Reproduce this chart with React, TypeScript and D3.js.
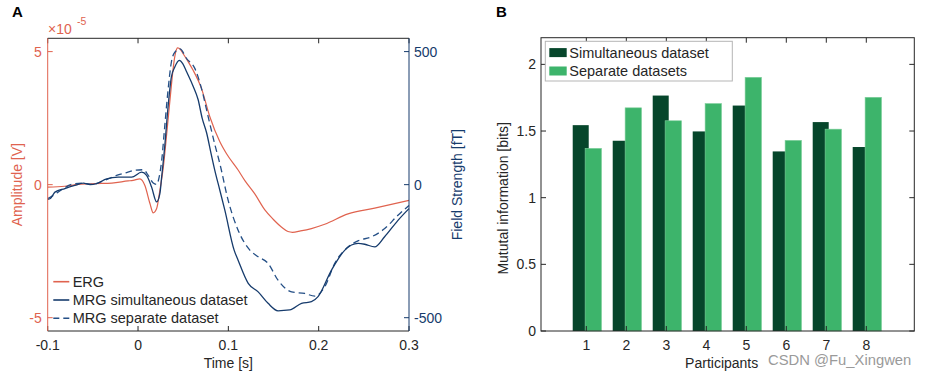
import React from "react";
import * as d3 from "d3";

// ---------- Panel A data ----------
const ergTime = [-0.1, -0.081, -0.066, -0.0477, -0.029, -0.011, -0.0055, 0.0021, 0.0076, 0.0132, 0.0168, 0.0206, 0.0242, 0.028, 0.032, 0.036, 0.039, 0.0415, 0.0438, 0.047, 0.05, 0.055, 0.061, 0.0703, 0.0795, 0.0906, 0.098, 0.1108, 0.1183, 0.1293, 0.1404, 0.1496, 0.159, 0.166, 0.171, 0.18, 0.192, 0.2067, 0.2325, 0.262, 0.3];
const ergValue = [-0.09, -0.06, 0.01, 0.04, 0.06, 0.14, 0.16, 0.22, -0.03, -0.71, -1.06, -0.9, -0.21, 0.66, 2.0, 3.4, 4.4, 4.95, 5.14, 5.08, 4.92, 4.65, 4.3, 3.61, 2.55, 1.61, 1.16, 0.55, 0.15, -0.35, -0.95, -1.3, -1.6, -1.76, -1.79, -1.74, -1.65, -1.49, -1.1, -0.88, -0.59];

const simTime = [-0.1, -0.097, -0.092, -0.081, -0.07, -0.0606, -0.053, -0.0458, -0.0347, -0.022, -0.0071, 0.004, 0.0095, 0.015, 0.0206, 0.0242, 0.0262, 0.0295, 0.0332, 0.0369, 0.0406, 0.0456, 0.0495, 0.0538, 0.061, 0.0665, 0.071, 0.0759, 0.081, 0.085, 0.0905, 0.0961, 0.1064, 0.1108, 0.122, 0.133, 0.144, 0.155, 0.168, 0.181, 0.192, 0.1993, 0.2142, 0.229, 0.2436, 0.251, 0.262, 0.273, 0.2878, 0.3];
const simValue = [-55, -52, -28, -15, -3, 6, 0, 4, 22, 28, 28, 47, 35, -9, -65, -34, 30, 141, 291, 404, 441, 467, 455, 424, 370, 320, 250, 195, 115, 54, -20, -96, -246, -284, -371, -403, -446, -474, -471, -446, -440, -421, -321, -246, -221, -224, -234, -196, -134, -90];

const sepTime = [-0.1, -0.0956, -0.0845, -0.0735, -0.0624, -0.0513, -0.0385, -0.0237, -0.0145, -0.0034, 0.0058, 0.0113, 0.0168, 0.0206, 0.0235, 0.0262, 0.0295, 0.0332, 0.0369, 0.0406, 0.0464, 0.0538, 0.063, 0.0703, 0.0777, 0.0851, 0.0906, 0.0998, 0.1108, 0.1238, 0.133, 0.144, 0.155, 0.17, 0.1846, 0.1957, 0.2067, 0.2178, 0.2325, 0.2436, 0.2584, 0.2731, 0.2878, 0.3];
const sepValue = [-52, -44, -19, 1, 6, 1, 14, 35, 44, 54, 56, 35, 6, 1, 30, 91, 216, 354, 460, 497, 510, 474, 436, 361, 255, 150, 79, -59, -171, -246, -271, -296, -359, -403, -409, -419, -384, -296, -234, -211, -196, -165, -115, -78];

const timeTicks = [-0.1, 0, 0.1, 0.2, 0.3];
const timeTickLabels = ["-0.1", "0", "0.1", "0.2", "0.3"];
const ampTicks = [-5, 0, 5];
const fieldTicks = [-500, 0, 500];
const legendA = ["ERG", "MRG simultaneous dataset", "MRG separate dataset"];

// ---------- Panel B data ----------
const participants = [1, 2, 3, 4, 5, 6, 7, 8];
const simultaneousMI = [1.544, 1.427, 1.766, 1.497, 1.691, 1.347, 1.567, 1.38];
const separateMI = [1.37, 1.674, 1.577, 1.706, 1.903, 1.43, 1.514, 1.753];
const miTicks = [0, 0.5, 1, 1.5, 2];
const legendB = ["Simultaneous dataset", "Separate datasets"];

const FONT = "'Liberation Sans', Arial, Helvetica, sans-serif";
const RED = "#e0634f";
const NAVY = "#163b6c";
const NAVY2 = "#244f86";
const DARKG = "#06462b";
const LIGHTG = "#3db46b";
const TXT = "#262626";

export default function App() {
  // Panel A scales
  const xA = d3.scaleLinear().domain([-0.1, 0.3]).range([47.7, 409]);
  const yL = d3.scaleLinear().domain([-5.5, 5.5]).range([331, 38.3]);
  const yR = d3.scaleLinear().domain([-550, 550]).range([331, 38.3]);
  const [ax0, ax1] = xA.range();
  const [ay1, ay0] = yL.range();

  const lineL = d3.line<number>().x((_, i) => xA(ergTime[i])).y((d) => yL(d)).curve(d3.curveMonotoneX);
  const lineSim = d3.line<number>().x((_, i) => xA(simTime[i])).y((d) => yR(d)).curve(d3.curveMonotoneX);
  const lineSep = d3.line<number>().x((_, i) => xA(sepTime[i])).y((d) => yR(d)).curve(d3.curveMonotoneX);

  // Panel B scales
  const xB = d3.scaleLinear().domain([-0.133, 9.2]).range([541, 914.3]);
  const yB = d3.scaleLinear().domain([0, 2.2]).range([331, 37.7]);
  const [bx0, bx1] = xB.range();
  const [by1, by0] = yB.range();
  const tk = 5;

  const legendAStyles = [
    { stroke: RED, dash: undefined },
    { stroke: NAVY, dash: undefined },
    { stroke: NAVY2, dash: "6,4" },
  ];

  return (
    <svg width={926} height={377} style={{ display: "block", position: "absolute", left: 0, top: 0, background: "#fff" }} fontFamily={FONT}>
      <rect x={0} y={0} width={926} height={377} fill="#fff" />
      {/* ---------------- Panel A ---------------- */}
      <text x={12} y={17} fontSize={15} fontWeight="bold" fill="#000">A</text>
      <g>
        <path d={lineL(ergValue) || ""} fill="none" stroke={RED} strokeWidth={1.2} />
        <path d={lineSep(sepValue) || ""} fill="none" stroke={NAVY2} strokeWidth={1.3} strokeDasharray="6.5,4" />
        <path d={lineSim(simValue) || ""} fill="none" stroke={NAVY} strokeWidth={1.3} />
        <line x1={ax0} x2={ax1} y1={ay0} y2={ay0} stroke={TXT} strokeWidth={1} />
        <line x1={ax0} x2={ax1} y1={ay1} y2={ay1} stroke={TXT} strokeWidth={1} />
        {timeTicks.map((t, i) => (
          <g key={"xt" + i}>
            <line x1={xA(t)} x2={xA(t)} y1={ay1} y2={ay1 - tk} stroke={TXT} />
            <line x1={xA(t)} x2={xA(t)} y1={ay0} y2={ay0 + tk} stroke={TXT} />
            <text x={xA(t)} y={349.5} fontSize={14} textAnchor="middle" fill={TXT}>{timeTickLabels[i]}</text>
          </g>
        ))}
        <line x1={ax0} x2={ax0} y1={ay0} y2={ay1} stroke={RED} strokeWidth={1} />
        {ampTicks.map((v) => (
          <g key={"yl" + v}>
            <line x1={ax0} x2={ax0 + tk} y1={yL(v)} y2={yL(v)} stroke={RED} />
            <text x={ax0 - 6} y={yL(v)} dy="0.35em" fontSize={14} textAnchor="end" fill={RED}>{v}</text>
          </g>
        ))}
        <line x1={ax1} x2={ax1} y1={ay0} y2={ay1} stroke={NAVY} strokeWidth={1} />
        {fieldTicks.map((v) => (
          <g key={"yr" + v}>
            <line x1={ax1} x2={ax1 - tk} y1={yR(v)} y2={yR(v)} stroke={NAVY} />
            <text x={ax1 + 5} y={yR(v)} dy="0.35em" fontSize={14} textAnchor="start" fill={NAVY}>{v}</text>
          </g>
        ))}
        <text x={48} y={34} fontSize={14} fill={RED}>×10</text>
        <text x={77} y={25} fontSize={10.5} fill={RED}>-5</text>
        <text transform={`translate(22,${(ay0 + ay1) / 2}) rotate(-90)`} fontSize={14} textAnchor="middle" fill={RED}>Amplitude [V]</text>
        <text transform={`translate(462,${(ay0 + ay1) / 2}) rotate(-90)`} fontSize={14} textAnchor="middle" fill={NAVY}>Field Strength [fT]</text>
        <text x={(ax0 + ax1) / 2} y={368} fontSize={14} textAnchor="middle" fill={TXT}>Time [s]</text>
        {legendA.map((label, i) => {
          const y = 281.7 + i * 18.3;
          return (
            <g key={"la" + i}>
              <line x1={53.3} x2={69.3} y1={y} y2={y} stroke={legendAStyles[i].stroke} strokeWidth={1.6} strokeDasharray={legendAStyles[i].dash} />
              <text x={72.7} y={y} dy="0.35em" fontSize={14.5} fill={TXT}>{label}</text>
            </g>
          );
        })}
      </g>

      {/* ---------------- Panel B ---------------- */}
      <text x={496} y={17} fontSize={15} fontWeight="bold" fill="#000">B</text>
      <g>
        {participants.map((p, i) => (
          <g key={"bar" + p}>
            <rect x={xB(p - 0.34)} y={yB(simultaneousMI[i])} width={xB(p + 0.06) - xB(p - 0.34)} height={yB(0) - yB(simultaneousMI[i])} fill={DARKG} />
            <rect x={xB(p - 0.03)} y={yB(separateMI[i])} width={xB(p + 0.38) - xB(p - 0.03)} height={yB(0) - yB(separateMI[i])} fill={LIGHTG} stroke="#7fcf9c" strokeWidth={0.6} />
          </g>
        ))}
        <rect x={bx0} y={by0} width={bx1 - bx0} height={by1 - by0} fill="none" stroke={TXT} strokeWidth={1} />
        {participants.map((p) => (
          <g key={"xbt" + p}>
            <line x1={xB(p)} x2={xB(p)} y1={by1} y2={by1 - tk} stroke={TXT} />
            <line x1={xB(p)} x2={xB(p)} y1={by0} y2={by0 + tk} stroke={TXT} />
            <text x={xB(p)} y={349.5} fontSize={14} textAnchor="middle" fill={TXT}>{p}</text>
          </g>
        ))}
        {miTicks.map((v) => (
          <g key={"ybt" + v}>
            <line x1={bx0} x2={bx0 + tk} y1={yB(v)} y2={yB(v)} stroke={TXT} />
            <line x1={bx1} x2={bx1 - tk} y1={yB(v)} y2={yB(v)} stroke={TXT} />
            <text x={bx0 - 5} y={yB(v)} dy="0.35em" fontSize={14} textAnchor="end" fill={TXT}>{v}</text>
          </g>
        ))}
        <text transform={`translate(508,${(by0 + by1) / 2 + 14}) rotate(-90)`} fontSize={14} textAnchor="middle" fill={TXT}>Mututal information [bits]</text>
        <text x={721.7} y={368} fontSize={14} textAnchor="middle" fill={TXT}>Participants</text>
        <rect x={545.3} y={41.3} width={187} height={39.7} fill="#fff" stroke="#b5b5b5" strokeWidth={1} />
        {legendB.map((label, i) => {
          const y = 52.6 + i * 18.4;
          return (
            <g key={"lb" + i}>
              <rect x={549.3} y={y - 4.5} width={17.4} height={9} fill={i === 0 ? DARKG : LIGHTG} />
              <text x={569.3} y={y} dy="0.35em" fontSize={14.5} fill={TXT}>{label}</text>
            </g>
          );
        })}
        <text x={768} y={365} fontSize={14.8} fill="#9a9a9a">CSDN @Fu_Xingwen</text>
      </g>
    </svg>
  );
}
